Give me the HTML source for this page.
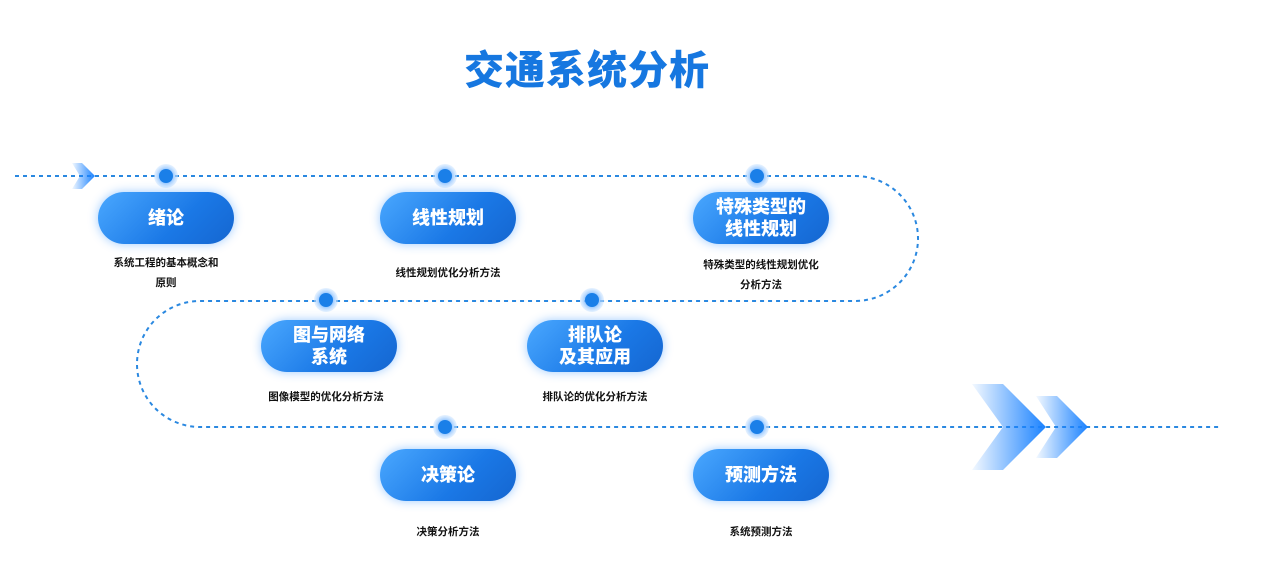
<!DOCTYPE html>
<html><head><meta charset="utf-8">
<style>
body{margin:0;width:1274px;height:587px;background:#fff;position:relative;overflow:hidden;font-family:"Liberation Sans","Noto Sans CJK SC",sans-serif;}
.t{position:absolute;left:0;width:1174px;top:38px;text-align:center;font-size:40px;font-weight:900;color:#1677e0;letter-spacing:1px;}
.pill{position:absolute;width:136px;height:52px;border-radius:26px;background:linear-gradient(135deg,#4aa8ff,#1a78e6 60%,#1566d0);box-shadow:0 0 10px rgba(40,140,255,.45);color:#fff;font-weight:900;font-size:18px;line-height:22px;display:flex;align-items:center;justify-content:center;text-align:center;}
.d{position:absolute;width:200px;text-align:center;font-size:10.5px;font-weight:700;color:#111;line-height:20px;}
</style></head><body>
<div class="t">交通系统分析</div>
<svg width="1274" height="587" style="position:absolute;left:0;top:0">
<defs>
<linearGradient id="g" x1="0" x2="1"><stop offset="0" stop-color="#1a82ff" stop-opacity="0.05"/><stop offset="1" stop-color="#1a82ff"/></linearGradient>
<radialGradient id="h"><stop offset="0.5" stop-color="#7ab8ff" stop-opacity=".9"/><stop offset="1" stop-color="#cfe6ff" stop-opacity=".5"/></radialGradient>
</defs>
<path d="M15,176 H855 A63,62.5 0 0 1 855,301 H200 A63,63 0 0 0 200,427 H1220" fill="none" stroke="#2a88e0" stroke-width="2" stroke-dasharray="4,4"/>
<polygon points="72,163 82,163 95,176 82,189 72,189 80,176" fill="url(#g)"/>
<polygon points="972,384 1003,384 1046,427 1003,470 972,470 1003,427" fill="url(#g)"/>
<polygon points="1036,396 1057,396 1088,427 1057,458 1036,458 1056,427" fill="url(#g)"/>
<g fill="#1a7fe8">
<circle cx="166" cy="176" r="12" fill="url(#h)"/><circle cx="166" cy="176" r="7"/>
<circle cx="445" cy="176" r="12" fill="url(#h)"/><circle cx="445" cy="176" r="7"/>
<circle cx="757" cy="176" r="12" fill="url(#h)"/><circle cx="757" cy="176" r="7"/>
<circle cx="326" cy="300" r="12" fill="url(#h)"/><circle cx="326" cy="300" r="7"/>
<circle cx="592" cy="300" r="12" fill="url(#h)"/><circle cx="592" cy="300" r="7"/>
<circle cx="445" cy="427" r="12" fill="url(#h)"/><circle cx="445" cy="427" r="7"/>
<circle cx="757" cy="427" r="12" fill="url(#h)"/><circle cx="757" cy="427" r="7"/>
</g>
</svg>
<div class="pill" style="left:98px;top:192px">绪论</div>
<div class="pill" style="left:380px;top:192px">线性规划</div>
<div class="pill" style="left:693px;top:192px">特殊类型的<br>线性规划</div>
<div class="pill" style="left:261px;top:320px">图与网络<br>系统</div>
<div class="pill" style="left:527px;top:320px">排队论<br>及其应用</div>
<div class="pill" style="left:380px;top:449px">决策论</div>
<div class="pill" style="left:693px;top:449px">预测方法</div>
<div class="d" style="left:66px;top:253px">系统工程的基本概念和<br>原则</div>
<div class="d" style="left:348px;top:263px">线性规划优化分析方法</div>
<div class="d" style="left:661px;top:255px">特殊类型的线性规划优化<br>分析方法</div>
<div class="d" style="left:226px;top:387px">图像模型的优化分析方法</div>
<div class="d" style="left:495px;top:387px">排队论的优化分析方法</div>
<div class="d" style="left:348px;top:522px">决策分析方法</div>
<div class="d" style="left:661px;top:522px">系统预测方法</div>
</body></html>
